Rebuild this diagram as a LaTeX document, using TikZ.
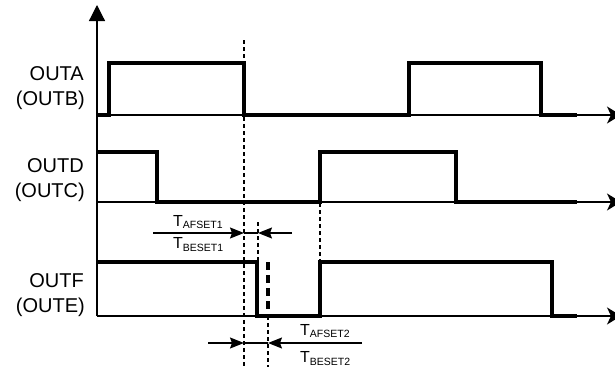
\documentclass[tikz,border=0pt]{standalone}
\usepackage{fontspec}
\setmainfont{Liberation Sans}
\usetikzlibrary{arrows.meta}
\newcommand{\outfont}{\fontsize{20}{25}\selectfont}
\newcommand{\tfont}{\fontsize{16}{18}\selectfont}
\newcommand{\subfont}{\fontsize{10.5}{12}\selectfont}

\begin{document}
\begin{tikzpicture}[x=1pt,y=-1pt,
    sig/.style={line width=3.5pt},
    axis/.style={line width=1.2pt},
    guide/.style={line width=1.4pt,dash pattern=on 4pt off 3pt},
    dim/.style={line width=1.4pt,-{Stealth[length=14pt,width=11pt,inset=2pt]}},
    lbl/.style={anchor=base east,inner sep=0pt},
    tlbl/.style={anchor=base west,inner sep=0pt}]

\useasboundingbox (0,0) rectangle (615,367);

\draw[axis,-{Triangle[length=16pt,width=16pt]}] (97,316)--(97,5);
\foreach \y in {115,202,316}{% one time axis under each output pair
    \draw[axis,-{Stealth[length=14pt,width=17pt,inset=4pt]}] (97,\y)--(621,\y);}

\node[lbl] (outa) at (84,80) {\outfont OUTA};
\node[lbl] (outb) at (85,105) {\outfont (OUTB)};
\node[lbl] (outd) at (84,172) {\outfont OUTD};
\node[lbl] (outc) at (85,197) {\outfont (OUTC)};
\node[lbl] (outf) at (84,287) {\outfont OUTF};
\node[lbl] (oute) at (85,312) {\outfont (OUTE)};

% the three outputs
\draw[sig] (97,115)--(109,115)--(109,63)--(244,63)--(244,115)--(409,115)--(409,63)--(541,63)--(541,115)--(577,115);
\draw[sig] (97,152)--(157,152)--(157,202)--(320,202)--(320,152)--(456,152)--(456,202)--(577,202);
\draw[sig] (97,262)--(257,262)--(257,316)--(320,316)--(320,262)--(552,262)--(552,316)--(577,316);
\draw[line width=3.5pt,dash pattern=on 8pt off 5pt] (268,262)--(268,316);

% guides
\draw[guide] (244,40)--(244,367);
\draw[guide] (258,222)--(258,262);
\draw[guide] (320,203)--(320,262);
\draw[guide] (268,316)--(268,367);

% dead times
\coordinate (a1) at (244,233);
\coordinate (b1) at (258,233);
\coordinate (a2) at (244,343);
\coordinate (b2) at (268,343);
\draw[dim] (153,233)--(a1);
\draw[dim] (292,233)--(b1);
\draw[line width=1.4pt] (a1)--(b1);
\draw[dim] (208,343)--(a2);
\draw[dim] (362,343)--(b2);
\draw[line width=1.4pt] (a2)--(b2);

\node[tlbl] (tafset1) at (173,226) {\tfont T\raisebox{-2pt}{\subfont AFSET1}};
\node[tlbl] (tbeset1) at (173,248) {\tfont T\raisebox{-3pt}{\subfont BESET1}};
\node[tlbl] (tafset2) at (300,335) {\tfont T\raisebox{-2pt}{\subfont AFSET2}};
\node[tlbl] (tbeset2) at (300,362) {\tfont T\raisebox{-3pt}{\subfont BESET2}};

\end{tikzpicture}
\end{document}
